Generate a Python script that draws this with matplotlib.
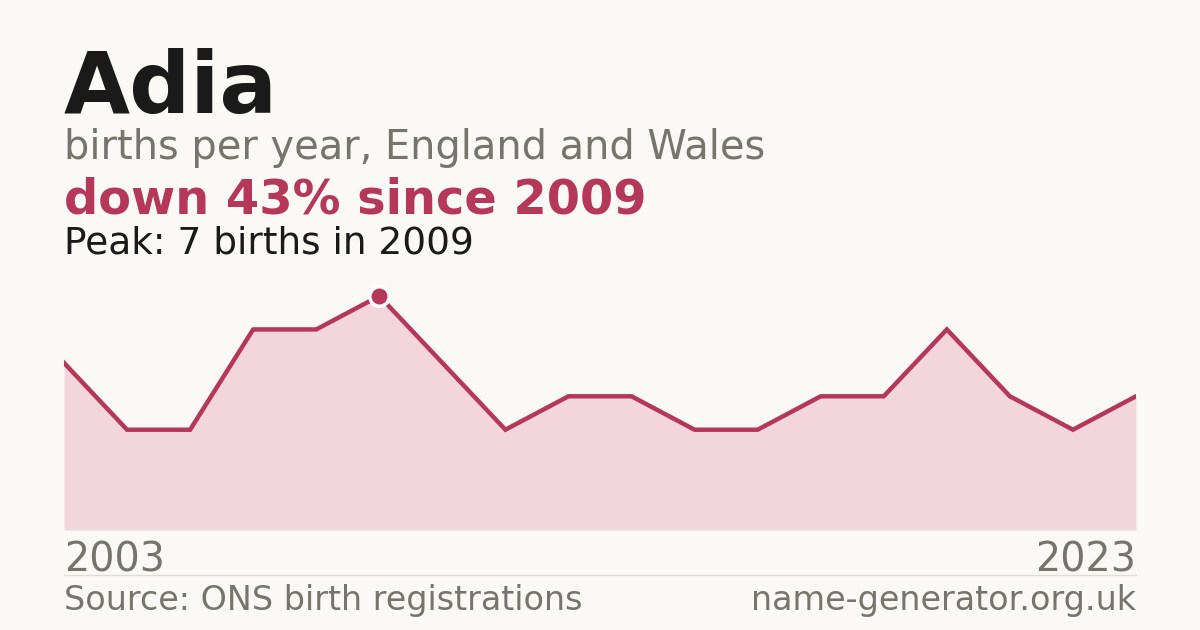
import matplotlib
matplotlib.use("Agg")
import matplotlib.pyplot as plt
import numpy as np

plt.rcParams["font.family"] = ["DejaVu Sans"]

# ---- data ----
name = "Adia"
first_year = "2003"
last_year = "2023"
births = [5, 3, 3, 6, 6, 7, 5, 3, 4, 4, 3, 3, 4, 4, 6, 4, 3, 4]
peak_index = 5

BG = "#faf9f5"
LINE = "#b5385a"
FILL = "#f2d6db"
GREY = "#77736d"
DARK = "#1a1a1a"

W, H = 1200, 630
fig = plt.figure(figsize=(W / 100, H / 100), dpi=100, facecolor=BG)

def fx(px):
    return px / W

def fy(py):
    return 1 - py / H

ax = fig.add_axes([fx(64), fy(530), fx(1136) - fx(64), (530 - 296) / H])
ax.set_facecolor(BG)
x = np.arange(len(births))
ax.fill_between(x, births, 0, color=FILL, lw=0, zorder=1)
ax.plot(x, births, color=LINE, lw=3.2, solid_joinstyle="miter", zorder=2)
ax.plot([x[peak_index]], [births[peak_index]], "o", ms=14, color=LINE,
        mec="white", mew=2.5, zorder=3, clip_on=False)
ax.set_xlim(0, len(births) - 1)
ax.set_ylim(0, max(births))
ax.axis("off")

fig.text(fx(64), fy(113), name, fontsize=61.5, fontweight="bold", color=DARK,
         va="baseline", ha="left")
fig.text(fx(64), fy(159), "births per year, England and Wales", fontsize=28.7,
         color=GREY, va="baseline", ha="left")
fig.text(fx(64), fy(214), "down 43% since 2009", fontsize=34.5,
         fontweight="bold", color=LINE, va="baseline", ha="left")
fig.text(fx(64), fy(254), "Peak: 7 births in 2009", fontsize=27,
         color=DARK, va="baseline", ha="left")

fig.text(fx(64), fy(571), first_year, fontsize=28.5, color=GREY,
         va="baseline", ha="left")
fig.text(fx(1136), fy(571), last_year, fontsize=28.5, color=GREY,
         va="baseline", ha="right")

fig.add_artist(plt.Line2D([fx(64), fx(1136)], [fy(574.5), fy(574.5)],
                          color="#e0ddd6", lw=1, transform=fig.transFigure))

fig.text(fx(64), fy(610), "Source: ONS birth registrations", fontsize=24,
         color=GREY, va="baseline", ha="left")
fig.text(fx(1136), fy(610), "name-generator.org.uk", fontsize=24,
         color=GREY, va="baseline", ha="right")

fig.savefig("out.png", dpi=100, facecolor=BG)
